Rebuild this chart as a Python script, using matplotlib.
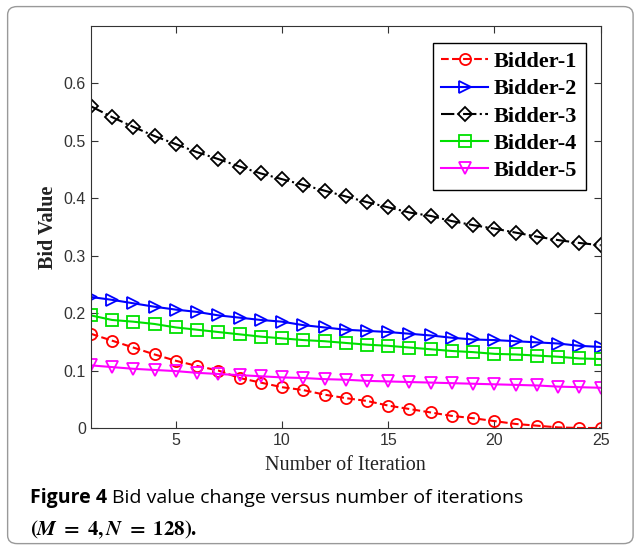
import numpy as np
import matplotlib.pyplot as plt
from matplotlib.patches import FancyBboxPatch

# Iterationen und Gebotswerte
iters = np.arange(1, 26)
bidder1 = [0.164, 0.152, 0.140, 0.128, 0.117, 0.108, 0.100, 0.087, 0.079, 0.071,
           0.066, 0.058, 0.052, 0.047, 0.039, 0.033, 0.027, 0.021, 0.017, 0.012,
           0.007, 0.004, 0.001, 0.000, 0.000]
bidder2 = [0.228, 0.223, 0.217, 0.211, 0.206, 0.202, 0.196, 0.192, 0.188, 0.185,
           0.179, 0.175, 0.171, 0.169, 0.167, 0.164, 0.161, 0.157, 0.154, 0.153,
           0.151, 0.149, 0.147, 0.143, 0.141]
bidder3 = [0.560, 0.541, 0.524, 0.508, 0.494, 0.480, 0.468, 0.455, 0.443, 0.433,
           0.423, 0.413, 0.403, 0.393, 0.384, 0.375, 0.369, 0.360, 0.353, 0.347,
           0.340, 0.333, 0.327, 0.322, 0.318]
bidder4 = [0.196, 0.188, 0.185, 0.181, 0.175, 0.171, 0.167, 0.163, 0.159, 0.156,
           0.153, 0.151, 0.148, 0.145, 0.143, 0.140, 0.137, 0.134, 0.132, 0.129,
           0.128, 0.126, 0.124, 0.121, 0.120]
bidder5 = [0.109, 0.106, 0.103, 0.101, 0.099, 0.096, 0.094, 0.092, 0.090, 0.088,
           0.087, 0.085, 0.084, 0.082, 0.081, 0.080, 0.079, 0.078, 0.077, 0.076,
           0.075, 0.074, 0.072, 0.071, 0.070]

plt.rcParams['mathtext.fontset'] = 'stix'

fig = plt.figure(figsize=(6.35, 5.48), dpi=100)
ax = fig.add_axes([0.143, 0.219, 0.803, 0.734])

mk = dict(markersize=8, markerfacecolor='none', markeredgewidth=1.3, linewidth=1.5)
ax.plot(iters, bidder1, '--', color='#ff0000', marker='o', label='Bidder-1', **mk)
ax.plot(iters, bidder2, '-', color='#0000ff', marker='>', label='Bidder-2', **mk)
ax.plot(iters, bidder3, '-.', color='black', marker='D', label='Bidder-3',
        markersize=7, markerfacecolor='none', markeredgewidth=1.3, linewidth=1.5)
ax.plot(iters, bidder4, '-', color='#00e000', marker='s', label='Bidder-4', **mk)
ax.plot(iters, bidder5, '-', color='#ff00ff', marker='v', label='Bidder-5', **mk)

ax.set_xlim(1, 25)
ax.set_ylim(0, 0.7)
ax.set_xticks([5, 10, 15, 20, 25])
ax.set_yticks([0, 0.1, 0.2, 0.3, 0.4, 0.5, 0.6])
ax.set_yticklabels(['0', '0.1', '0.2', '0.3', '0.4', '0.5', '0.6'])
ax.tick_params(direction='in', top=True, right=True, length=5, labelsize=11.5,
               labelcolor='#333333', colors='#333333')
for lab in ax.get_xticklabels() + ax.get_yticklabels():
    lab.set_family('Liberation Sans')
for s in ax.spines.values():
    s.set_color('#333333')

ax.set_xlabel('Number of Iteration', family='Liberation Serif', fontsize=14.5,
              color='#222222', labelpad=6)
ax.set_ylabel('Bid Value', family='Liberation Serif', fontsize=14.5,
              fontweight='bold', color='#222222', labelpad=4)

leg = ax.legend(loc='upper right', prop={'family': 'Liberation Serif', 'weight': 'bold', 'size': 16},
                fancybox=False, edgecolor='black', framealpha=1, handlelength=2.1,
                borderpad=0.4, labelspacing=0.3, handletextpad=0.25, borderaxespad=0,
                bbox_to_anchor=(0.971, 0.958))
leg.get_frame().set_linewidth(1.0)

# Rahmen um die Abbildung
fig.patches.append(FancyBboxPatch((0.012, 0.008), 0.985, 0.98, boxstyle='round,pad=0,rounding_size=0.015',
                                  transform=fig.transFigure, facecolor='none',
                                  edgecolor='#999999', linewidth=1.0))

# Bildunterschrift
t1 = fig.text(0.047, 0.083, 'Figure 4', family='Open Sans', fontweight='bold', fontsize=14)
fig.canvas.draw()
bb = t1.get_window_extent()
x2 = (bb.x1 + 5) / fig.bbox.width
fig.text(x2, 0.083, 'Bid value change versus number of iterations', family='Open Sans', fontsize=14)
fig.text(0.047, 0.024, r'$\mathbf{(}\mathbfit{M}\mathbf{\ =\ 4,}\mathbfit{N}\mathbf{\ =\ 128).}$',
         fontsize=15)

fig.savefig('out.png', dpi=100)
